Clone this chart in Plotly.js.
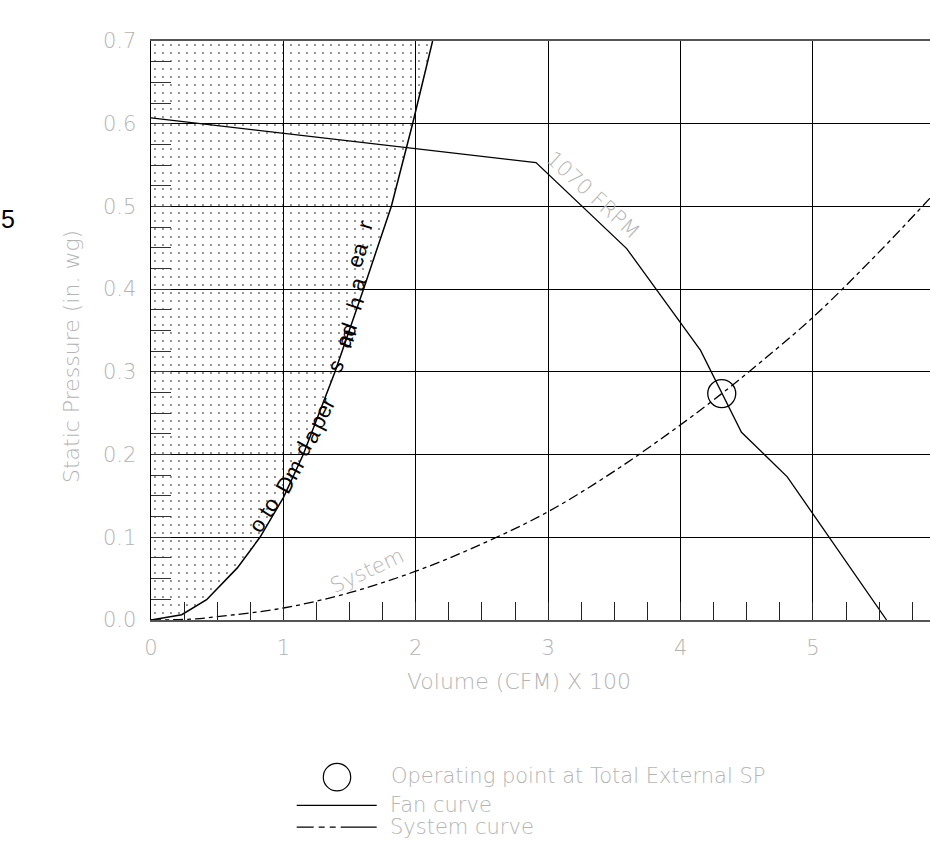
<!DOCTYPE html>
<html>
<head>
<meta charset="utf-8">
<script src="https://cdn.plot.ly/plotly-3.0.1.min.js"></script>
<style>
  html, body { margin: 0; padding: 0; background: #fff; }
  #chart { width: 930px; height: 860px; }
</style>
</head>
<body>
<div id="chart"></div>
<script>
// ---- data ----
const damperX = [0, 0.232, 0.42, 0.652, 0.823, 1.0, 1.15, 1.39, 1.605, 1.815, 1.976, 2.127];
const damperY = [0, 0.0064, 0.0245, 0.063, 0.100, 0.148, 0.200, 0.300, 0.400, 0.500, 0.600, 0.700];

const fanX = [0, 2.908, 3.593, 4.151, 4.46, 4.806, 5.556];
const fanY = [0.607, 0.553, 0.449, 0.326, 0.227, 0.173, 0.0];

const systemX = [0, 0.3, 0.5, 1.0, 1.5, 2.0, 2.5, 3.0, 3.5, 4.0, 4.311, 4.5, 5.0, 5.5, 5.884];
const systemY = [0, 0.001, 0.004, 0.0145, 0.033, 0.059, 0.092, 0.131, 0.180, 0.236, 0.2737, 0.298, 0.366, 0.445, 0.510];

const opX = [4.311];
const opY = [0.2737];

const xTickVals = [0, 1, 2, 3, 4, 5];
const xTickText = ['0', '1', '2', '3', '4', '5'];
const yTickVals = [0, 0.1, 0.2, 0.3, 0.4, 0.5, 0.6, 0.7];
const yTickText = ['0.0', '0.1', '0.2', '0.3', '0.4', '0.5', '0.6', '0.7'];

const xMax = 5.884;
const yMax = 0.7;

// label fragments along the damper curve: [text, x, y, angle]
const damperLabels = [
  ['o to', 0.853, 0.128, -57],
  ['Dm', 1.05, 0.173, -61],
  ['d', 1.15, 0.207, -62],
  ['a', 1.214, 0.223, -63],
  ['per', 1.289, 0.250, -63],
  ['s', 1.39, 0.307, -66],
  ['ad', 1.473, 0.344, -70],
  ['m', 1.478, 0.340, -70],
  ['h', 1.541, 0.383, -71],
  ['a', 1.556, 0.406, -72],
  ['ea', 1.556, 0.441, -72],
  ['r', 1.616, 0.478, -74]
];

// ---- geometry helpers for outer text (paper coords from px) ----
const L = 151, R = 930, T = 40.7, B = 619.6;
const px = v => (v - L) / (R - L);
const py = v => (B - v) / (B - T);

const gray = '#b4b4b4';
const fam = 'DejaVu Sans, Verdana, sans-serif';
const tickFont = { family: fam, size: 21, color: gray, weight: 200 };
const lblFont = { family: fam, size: 21, color: gray, weight: 200 };

// fill polygon for stippled area (curve + top-left corner)
const fillX = damperX.concat([0]);
const fillY = damperY.concat([yMax]);

const traces = [
  {
    x: fillX, y: fillY, mode: 'lines', fill: 'toself',
    line: { width: 0, color: 'rgba(0,0,0,0)' },
    fillcolor: 'rgba(0,0,0,0)',
    fillpattern: { shape: '.', size: 8, solidity: 0.03, fgcolor: '#000', bgcolor: 'rgba(0,0,0,0)', fillmode: 'replace' },
    hoverinfo: 'skip', showlegend: false
  },
  {
    x: damperX, y: damperY, mode: 'lines',
    line: { color: '#000', width: 1.5 }, showlegend: false
  },
  {
    x: fanX, y: fanY, mode: 'lines',
    line: { color: '#000', width: 1.3 }, showlegend: false
  },
  {
    x: systemX, y: systemY, mode: 'lines', line: { color: '#000', width: 1.3, dash: '10px,4px,4px,4px', shape: 'spline' },
    showlegend: false
  },
  {
    x: opX, y: opY, mode: 'markers',
    marker: { symbol: 'circle-open', size: 28, color: '#000', line: { width: 1.3, color: '#000' } },
    showlegend: false
  }
];

const annotations = [];
damperLabels.forEach(d => {
  annotations.push({
    x: d[1], y: d[2], xref: 'x', yref: 'y', xanchor: 'center', yanchor: 'middle', text: d[0], showarrow: false,
    textangle: d[3], font: { family: 'Liberation Sans, Arial, sans-serif', size: 22, color: '#000' }
  });
});
const outer = (x, y, text, opts) => Object.assign({
  x: x, y: y, xref: 'paper', yref: 'paper', xanchor: 'center', yanchor: 'middle',
  text: text, showarrow: false, font: lblFont
}, opts || {});
annotations.push(
  { x: 3.338, y: 0.5134, xref: 'x', yref: 'y', xanchor: 'center', yanchor: 'middle', text: '1070 FRPM', showarrow: false, textangle: 42.5,
    font: lblFont },
  { x: 1.628, y: 0.0594, xref: 'x', yref: 'y', xanchor: 'center', yanchor: 'middle', text: 'System', showarrow: false, textangle: -25,
    font: lblFont },
  outer(px(7.5), py(219), '5', { font: { family: 'Liberation Sans, Arial, sans-serif', size: 25, color: '#000' } }),
  outer(px(71.7), py(356), 'Static Pressure (in. wg)', { textangle: -90, font: { family: fam, size: 22, color: gray, weight: 200 } }),
  outer(px(405), py(681), 'Volume (CFM) X 100', { xanchor: 'left', font: { family: fam, size: 22, color: gray, weight: 200 } }),
  outer(px(389), py(776), 'Operating point at Total External SP', { xanchor: 'left' }),
  outer(px(388), py(805), 'Fan curve', { xanchor: 'left' }),
  outer(px(388), py(827), 'System curve', { xanchor: 'left' })
);

const shapes = [
  { type: 'circle', xref: 'paper', yref: 'paper', x0: px(323.3), x1: px(350.7), y0: py(790.4), y1: py(763),
    line: { color: '#000', width: 1.2 } },
  { type: 'line', xref: 'paper', yref: 'paper', x0: px(296.7), x1: px(376.7), y0: py(805), y1: py(805),
    line: { color: '#000', width: 1.2 } },
  { type: 'line', xref: 'paper', yref: 'paper', x0: px(296.7), x1: px(376.7), y0: py(826.7), y1: py(826.7),
    line: { color: '#000', width: 1.2, dash: '17px,5px,6px,5px,6px,5px,36px' } }
];

const layout = {
  width: 930, height: 860,
  margin: { l: L, r: 930 - R, t: T, b: 860 - B, pad: 0 },
  paper_bgcolor: '#fff', plot_bgcolor: '#fff',
  showlegend: false,
  xaxis: {
    range: [0, xMax], tickvals: xTickVals, ticktext: xTickText,
    showgrid: true, gridcolor: '#000', gridwidth: 1, zeroline: false,
    showline: true, linecolor: '#555', linewidth: 2, mirror: true,
    ticks: 'inside', ticklen: 18, tickcolor: '#222', tickwidth: 1,
    minor: { dtick: 0.25, ticks: 'inside', ticklen: 18, tickcolor: '#222', tickwidth: 1, showgrid: false },
    tickfont: tickFont, ticklabelstandoff: 8, fixedrange: true
  },
  yaxis: {
    range: [0, yMax], tickvals: yTickVals, ticktext: yTickText,
    showgrid: true, gridcolor: '#000', gridwidth: 1, zeroline: false,
    showline: true, linecolor: '#000', linewidth: 1.5, mirror: false,
    ticks: 'inside', ticklen: 20, tickcolor: '#333', tickwidth: 1,
    minor: { dtick: 0.025, ticks: 'inside', ticklen: 20, tickcolor: '#333', tickwidth: 1, showgrid: false },
    tickfont: tickFont, ticklabelstandoff: 9, fixedrange: true
  },
  annotations: annotations,
  shapes: shapes
};

Plotly.newPlot('chart', traces, layout, { displayModeBar: false, staticPlot: true });
</script>
</body>
</html>
